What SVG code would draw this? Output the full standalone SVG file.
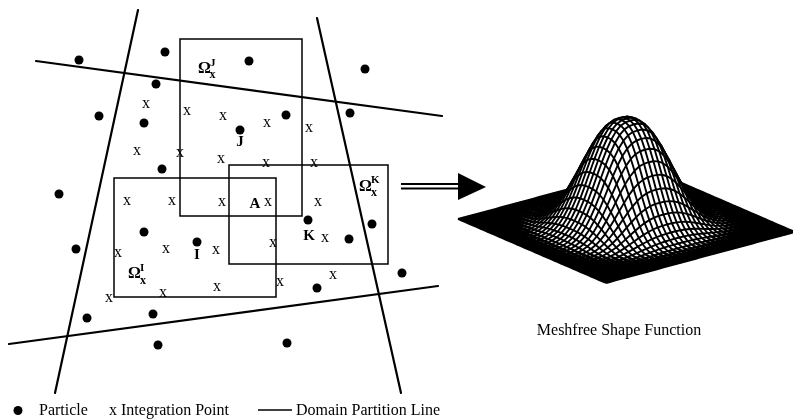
<svg xmlns="http://www.w3.org/2000/svg" xmlns:xlink="http://www.w3.org/1999/xlink" width="793" height="419" viewBox="0 0 793 419">
<style>
.pl{fill:none;stroke:#000;stroke-width:2.2;stroke-linecap:round}
.bx{fill:none;stroke:#000;stroke-width:1.5}
.pt{fill:#000}
.ip{font-family:"Liberation Serif","Times New Roman",serif;font-size:16px;text-anchor:middle;fill:#000}
.lb{font-family:"Liberation Serif","Times New Roman",serif;font-weight:bold;font-size:15px;fill:#000}
.om{font-family:"Liberation Serif","Times New Roman",serif;font-weight:bold;fill:#000}
.lg{font-family:"Liberation Serif","Times New Roman",serif;font-size:16px;fill:#000}
.cur{fill:#fff;stroke:none}
.ln{fill:none;stroke:#000;stroke-width:1.9;stroke-linejoin:round}
</style>
<defs>
<path id="cv" vector-effect="non-scaling-stroke" d="M-100-.04L-95-.11L-90-.25L-85-.56L-80-1.16L-75-2.25L-70-4.11L-65-7.05L-60-11.4L-55-17.43L-50-25.25L-45-34.72L-40-45.48L-35-56.87L-30-68.13L-25-78.4L-20-87L-15-93.44L-10-97.57L-5-99.57L0-100L5-99.57L10-97.57L15-93.44L20-87L25-78.4L30-68.13L35-56.87L40-45.48L45-34.72L50-25.25L55-17.43L60-11.4L65-7.05L70-4.11L75-2.25L80-1.16L85-.56L90-.25L95-.11L100-.04"/>
<path id="cf" d="M-100 0L-100-.04L-95-.11L-90-.25L-85-.56L-80-1.16L-75-2.25L-70-4.11L-65-7.05L-60-11.4L-55-17.43L-50-25.25L-45-34.72L-40-45.48L-35-56.87L-30-68.13L-25-78.4L-20-87L-15-93.44L-10-97.57L-5-99.57L0-100L5-99.57L10-97.57L15-93.44L20-87L25-78.4L30-68.13L35-56.87L40-45.48L45-34.72L50-25.25L55-17.43L60-11.4L65-7.05L70-4.11L75-2.25L80-1.16L85-.56L90-.25L95-.11L100-.04L100 0Z"/>
<g id="sl"><use href="#cf" class="cur"/><use href="#cv" class="ln"/></g>
</defs>
<rect width="793" height="419" fill="#fff"/>

<g id="partition-lines">
<line class="pl" x1="138" y1="10" x2="55" y2="393"/>
<line class="pl" x1="317" y1="18" x2="401" y2="393"/>
<line class="pl" x1="36" y1="61" x2="442" y2="116" stroke-width="2"/>
<line class="pl" x1="9" y1="344" x2="438" y2="286" stroke-width="2"/>
</g>

<g id="support-J">
<rect class="bx" x="180" y="39" width="122" height="177"/>
<text class="om"><tspan x="198" y="73" font-size="16">Ω</tspan><tspan x="210" y="66" font-size="11">J</tspan><tspan x="209.5" y="78" font-size="12">x</tspan></text>
</g>
<g id="support-I">
<rect class="bx" x="114" y="178" width="162" height="119"/>
<text class="om"><tspan x="128" y="278" font-size="16">Ω</tspan><tspan x="140" y="271" font-size="11">I</tspan><tspan x="140" y="284" font-size="12">x</tspan></text>
</g>
<g id="support-K">
<rect class="bx" x="229" y="165" width="159" height="99"/>
<text class="om"><tspan x="359" y="190.5" font-size="16">Ω</tspan><tspan x="371" y="183" font-size="11">K</tspan><tspan x="371" y="196" font-size="12">x</tspan></text>
</g>

<g id="particles">
<circle class="pt" cx="79" cy="60" r="4.5"/>
<circle class="pt" cx="165" cy="52" r="4.5"/>
<circle class="pt" cx="156" cy="84" r="4.5"/>
<circle class="pt" cx="99" cy="116" r="4.5"/>
<circle class="pt" cx="144" cy="123" r="4.5"/>
<circle class="pt" cx="162" cy="169" r="4.5"/>
<circle class="pt" cx="59" cy="194" r="4.5"/>
<circle class="pt" cx="249" cy="61" r="4.5"/>
<circle class="pt" cx="365" cy="69" r="4.5"/>
<circle class="pt" cx="286" cy="115" r="4.5"/>
<circle class="pt" cx="350" cy="113" r="4.5"/>
<circle class="pt" cx="76" cy="249" r="4.5"/>
<circle class="pt" cx="144" cy="232" r="4.5"/>
<circle class="pt" cx="87" cy="318" r="4.5"/>
<circle class="pt" cx="153" cy="314" r="4.5"/>
<circle class="pt" cx="158" cy="345" r="4.5"/>
<circle class="pt" cx="349" cy="239" r="4.5"/>
<circle class="pt" cx="372" cy="224" r="4.5"/>
<circle class="pt" cx="402" cy="273" r="4.5"/>
<circle class="pt" cx="317" cy="288" r="4.5"/>
<circle class="pt" cx="287" cy="343" r="4.5"/>
</g>

<g id="particle-J"><circle class="pt" cx="240" cy="130" r="4.5"/><text class="lb" x="240" y="146" text-anchor="middle">J</text></g>
<g id="particle-I"><circle class="pt" cx="197" cy="242" r="4.5"/><text class="lb" x="197" y="259" text-anchor="middle">I</text></g>
<g id="particle-K"><circle class="pt" cx="308" cy="220" r="4.5"/><text class="lb" x="309" y="240" text-anchor="middle">K</text></g>
<g id="point-A"><text class="lb" x="255" y="207.5" text-anchor="middle">A</text><text class="ip" x="268" y="206">x</text></g>

<g id="integration-points">
<text class="ip" x="146" y="108">x</text>
<text class="ip" x="187" y="115">x</text>
<text class="ip" x="223" y="120">x</text>
<text class="ip" x="267" y="127">x</text>
<text class="ip" x="309" y="132">x</text>
<text class="ip" x="137" y="155">x</text>
<text class="ip" x="180" y="157">x</text>
<text class="ip" x="221" y="163">x</text>
<text class="ip" x="266" y="167">x</text>
<text class="ip" x="314" y="167">x</text>
<text class="ip" x="127" y="205">x</text>
<text class="ip" x="172" y="205">x</text>
<text class="ip" x="222" y="206">x</text>
<text class="ip" x="318" y="206">x</text>
<text class="ip" x="118" y="257">x</text>
<text class="ip" x="166" y="253">x</text>
<text class="ip" x="216" y="254">x</text>
<text class="ip" x="273" y="247">x</text>
<text class="ip" x="325" y="242">x</text>
<text class="ip" x="109" y="302">x</text>
<text class="ip" x="163" y="297">x</text>
<text class="ip" x="217" y="291">x</text>
<text class="ip" x="333" y="279">x</text>
<text class="ip" x="280" y="286">x</text>
</g>

<g id="connectors">
<path d="M401 184H459M401 188.5H459" fill="none" stroke="#000" stroke-width="2"/>
<path d="M458 173L486 187L458 200Z" fill="#000"/>
</g>

<g id="shape-function">
<path d="M458 219L606 283L795 232L647 168Z" fill="#000"/>
<g id="w-lines">
<use href="#sl" transform="matrix(.74 .32 0 .00045 721 200)"/>
<use href="#sl" transform="matrix(.74 .32 0 .0011 716.28 201.28)"/>
<use href="#sl" transform="matrix(.74 .32 0 .0027 711.55 202.55)"/>
<use href="#sl" transform="matrix(.74 .32 0 .006 706.83 203.83)"/>
<use href="#sl" transform="matrix(.74 .32 0 .0124 702.1 205.1)"/>
<use href="#sl" transform="matrix(.74 .32 0 .0241 697.38 206.38)"/>
<use href="#sl" transform="matrix(.74 .32 0 .044 692.65 207.65)"/>
<use href="#sl" transform="matrix(.74 .32 0 .0754 687.93 208.93)"/>
<use href="#sl" transform="matrix(.74 .32 0 .122 683.2 210.2)"/>
<use href="#sl" transform="matrix(.74 .32 0 .1865 678.48 211.48)"/>
<use href="#sl" transform="matrix(.74 .32 0 .2702 673.75 212.75)"/>
<use href="#sl" transform="matrix(.74 .32 0 .3715 669.03 214.03)"/>
<use href="#sl" transform="matrix(.74 .32 0 .4866 664.3 215.3)"/>
<use href="#sl" transform="matrix(.74 .32 0 .6085 659.58 216.58)"/>
<use href="#sl" transform="matrix(.74 .32 0 .729 654.85 217.85)"/>
<use href="#sl" transform="matrix(.74 .32 0 .8389 650.13 219.13)"/>
<use href="#sl" transform="matrix(.74 .32 0 .9309 645.4 220.4)"/>
<use href="#sl" transform="matrix(.74 .32 0 .9998 640.68 221.68)"/>
<use href="#sl" transform="matrix(.74 .32 0 1.044 635.95 222.95)"/>
<use href="#sl" transform="matrix(.74 .32 0 1.0654 631.23 224.23)"/>
<use href="#sl" transform="matrix(.74 .32 0 1.07 626.5 225.5)"/>
<use href="#sl" transform="matrix(.74 .32 0 1.0654 621.78 226.78)"/>
<use href="#sl" transform="matrix(.74 .32 0 1.044 617.05 228.05)"/>
<use href="#sl" transform="matrix(.74 .32 0 .9998 612.33 229.33)"/>
<use href="#sl" transform="matrix(.74 .32 0 .9309 607.6 230.6)"/>
<use href="#sl" transform="matrix(.74 .32 0 .8389 602.88 231.88)"/>
<use href="#sl" transform="matrix(.74 .32 0 .729 598.15 233.15)"/>
<use href="#sl" transform="matrix(.74 .32 0 .6085 593.43 234.43)"/>
<use href="#sl" transform="matrix(.74 .32 0 .4866 588.7 235.7)"/>
<use href="#sl" transform="matrix(.74 .32 0 .3715 583.98 236.98)"/>
<use href="#sl" transform="matrix(.74 .32 0 .2702 579.25 238.25)"/>
<use href="#sl" transform="matrix(.74 .32 0 .1865 574.53 239.53)"/>
<use href="#sl" transform="matrix(.74 .32 0 .122 569.8 240.8)"/>
<use href="#sl" transform="matrix(.74 .32 0 .0754 565.08 242.08)"/>
<use href="#sl" transform="matrix(.74 .32 0 .044 560.35 243.35)"/>
<use href="#sl" transform="matrix(.74 .32 0 .0241 555.63 244.63)"/>
<use href="#sl" transform="matrix(.74 .32 0 .0124 550.9 245.9)"/>
<use href="#sl" transform="matrix(.74 .32 0 .006 546.18 247.18)"/>
<use href="#sl" transform="matrix(.74 .32 0 .0027 541.45 248.45)"/>
<use href="#sl" transform="matrix(.74 .32 0 .0011 536.73 249.73)"/>
<use href="#sl" transform="matrix(.74 .32 0 .00045 532 251)"/>
</g>
<g id="u-lines" style="mix-blend-mode:multiply">
<use href="#sl" transform="matrix(.945 -.255 0 .00045 552.5 193.5)"/>
<use href="#sl" transform="matrix(.945 -.255 0 .0011 556.2 195.1)"/>
<use href="#sl" transform="matrix(.945 -.255 0 .0027 559.9 196.7)"/>
<use href="#sl" transform="matrix(.945 -.255 0 .006 563.6 198.3)"/>
<use href="#sl" transform="matrix(.945 -.255 0 .0124 567.3 199.9)"/>
<use href="#sl" transform="matrix(.945 -.255 0 .0241 571 201.5)"/>
<use href="#sl" transform="matrix(.945 -.255 0 .044 574.7 203.1)"/>
<use href="#sl" transform="matrix(.945 -.255 0 .0754 578.4 204.7)"/>
<use href="#sl" transform="matrix(.945 -.255 0 .122 582.1 206.3)"/>
<use href="#sl" transform="matrix(.945 -.255 0 .1865 585.8 207.9)"/>
<use href="#sl" transform="matrix(.945 -.255 0 .2702 589.5 209.5)"/>
<use href="#sl" transform="matrix(.945 -.255 0 .3715 593.2 211.1)"/>
<use href="#sl" transform="matrix(.945 -.255 0 .4866 596.9 212.7)"/>
<use href="#sl" transform="matrix(.945 -.255 0 .6085 600.6 214.3)"/>
<use href="#sl" transform="matrix(.945 -.255 0 .729 604.3 215.9)"/>
<use href="#sl" transform="matrix(.945 -.255 0 .8389 608 217.5)"/>
<use href="#sl" transform="matrix(.945 -.255 0 .9309 611.7 219.1)"/>
<use href="#sl" transform="matrix(.945 -.255 0 .9998 615.4 220.7)"/>
<use href="#sl" transform="matrix(.945 -.255 0 1.044 619.1 222.3)"/>
<use href="#sl" transform="matrix(.945 -.255 0 1.0654 622.8 223.9)"/>
<use href="#sl" transform="matrix(.945 -.255 0 1.07 626.5 225.5)"/>
<use href="#sl" transform="matrix(.945 -.255 0 1.0654 630.2 227.1)"/>
<use href="#sl" transform="matrix(.945 -.255 0 1.044 633.9 228.7)"/>
<use href="#sl" transform="matrix(.945 -.255 0 .9998 637.6 230.3)"/>
<use href="#sl" transform="matrix(.945 -.255 0 .9309 641.3 231.9)"/>
<use href="#sl" transform="matrix(.945 -.255 0 .8389 645 233.5)"/>
<use href="#sl" transform="matrix(.945 -.255 0 .729 648.7 235.1)"/>
<use href="#sl" transform="matrix(.945 -.255 0 .6085 652.4 236.7)"/>
<use href="#sl" transform="matrix(.945 -.255 0 .4866 656.1 238.3)"/>
<use href="#sl" transform="matrix(.945 -.255 0 .3715 659.8 239.9)"/>
<use href="#sl" transform="matrix(.945 -.255 0 .2702 663.5 241.5)"/>
<use href="#sl" transform="matrix(.945 -.255 0 .1865 667.2 243.1)"/>
<use href="#sl" transform="matrix(.945 -.255 0 .122 670.9 244.7)"/>
<use href="#sl" transform="matrix(.945 -.255 0 .0754 674.6 246.3)"/>
<use href="#sl" transform="matrix(.945 -.255 0 .044 678.3 247.9)"/>
<use href="#sl" transform="matrix(.945 -.255 0 .0241 682 249.5)"/>
<use href="#sl" transform="matrix(.945 -.255 0 .0124 685.7 251.1)"/>
<use href="#sl" transform="matrix(.945 -.255 0 .006 689.4 252.7)"/>
<use href="#sl" transform="matrix(.945 -.255 0 .0027 693.1 254.3)"/>
<use href="#sl" transform="matrix(.945 -.255 0 .0011 696.8 255.9)"/>
<use href="#sl" transform="matrix(.945 -.255 0 .00045 700.5 257.5)"/>
</g>
</g>
<text id="caption" class="lg" x="619" y="335" font-size="18" text-anchor="middle">Meshfree Shape Function</text>

<g id="legend">
<circle class="pt" cx="18" cy="410.5" r="4.5"/>
<text class="lg" x="39" y="415">Particle</text>
<text class="lg" x="109" y="415">x Integration Point</text>
<line x1="258" y1="410" x2="292" y2="410" stroke="#000" stroke-width="1.5"/>
<text class="lg" x="296" y="415">Domain Partition Line</text>
</g>
</svg>
